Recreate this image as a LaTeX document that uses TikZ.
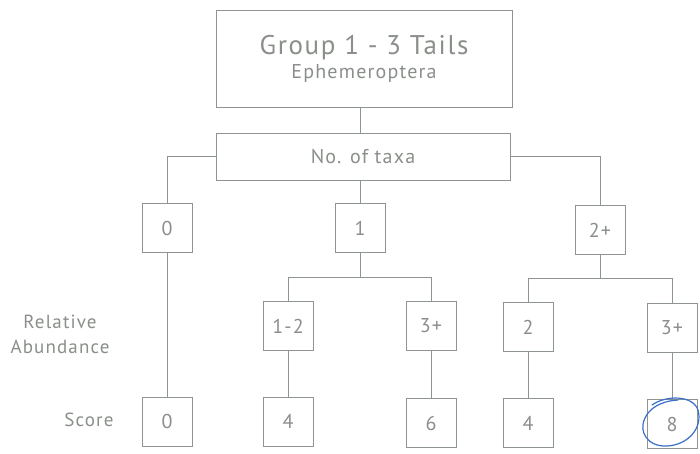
\documentclass[tikz,border=0pt]{standalone}
\usepackage{fontspec}
\setmainfont{PT Sans}[LetterSpace=6]
\definecolor{ink}{HTML}{8E948E}
\definecolor{txt}{HTML}{8A8F8A}
\definecolor{pen}{HTML}{3B6FC9}
\begin{document}
\begin{tikzpicture}[x=1pt,y=-1pt,
  box/.style={draw=ink,line width=0.8pt,text=txt,inner sep=0pt,
    minimum width=50pt,minimum height=49pt,font=\fontsize{20}{24}\selectfont},
  wire/.style={draw=ink,line width=0.8pt},
  side/.style={text=txt,align=center,font=\fontsize{19}{25}\selectfont}]
\useasboundingbox[fill=white] (0,0) rectangle (700,453);

% header boxes
\node[box,minimum width=296pt,minimum height=97pt,align=center] (head) at (364,58.5)
  {{\fontsize{27}{30}\selectfont Group 1 - 3 Tails}\\[0pt]{\fontsize{20}{22}\selectfont Ephemeroptera}};
\node[box,minimum width=294pt,minimum height=47pt] (taxa) at (363,156.5) {No. of taxa};

% number of taxa
\node[box] (t0) at (167,228) {0};
\node[box] (t1) at (360,228) {1};
\node[box] (t2) at (600,230) {2+};

% relative abundance
\node[box] (a12) at (288,326) {1-2};
\node[box] (a3) at (431,326) {3+};
\node[box] (b2) at (528,327) {2};
\node[box] (b3) at (672,328) {3+};

% scores
\node[box] (s0) at (167,421.5) {0};
\node[box] (s4) at (288,421.5) {4};
\node[box] (s6) at (431,423) {6};
\node[box] (s4b) at (528,423) {4};
\node[box] (s8) at (672,424) {8};

% row labels
\node[side] (lblra) at (60,334) {Relative\\Abundance};
\node[side,anchor=east] (lblsc) at (117,420) {Score};

% connectors
\draw[wire] (head.south -| t1.north) -- (taxa.north -| t1.north);
\draw[wire] (taxa.west) -| (t0.north);
\draw[wire] (taxa.east) -| (t2.north);
\draw[wire] (taxa.south -| t1.north) -- (t1.north);
\draw[wire] (t0.south) -- (s0.north);

\coordinate (j1) at (360,277);
\coordinate (j2) at (600,278);
\draw[wire] (t1.south) -- (j1);
\draw[wire] (j1) -| (a12.north);
\draw[wire] (j1) -| (a3.north);
\draw[wire] (t2.south) -- (j2);
\draw[wire] (j2) -| (b2.north);
\draw[wire] (j2) -| (b3.north);

\draw[wire] (a12.south) -- (s4.north);
\draw[wire] (a3.south) -- (s6.north);
\draw[wire] (b2.south) -- (s4b.north);
\draw[wire] (b3.south) -- (s8.north);

% hand-drawn ring round the top score
\draw[pen,line width=1.2pt,line cap=round]
  (652,405) .. controls (666,395) and (693,395) .. (698,410)
  .. controls (703,428) and (688,445) .. (667,446)
  .. controls (648,447) and (638,432) .. (645,418)
  .. controls (649,409) and (660,401) .. (678,400);
\end{tikzpicture}
\end{document}
